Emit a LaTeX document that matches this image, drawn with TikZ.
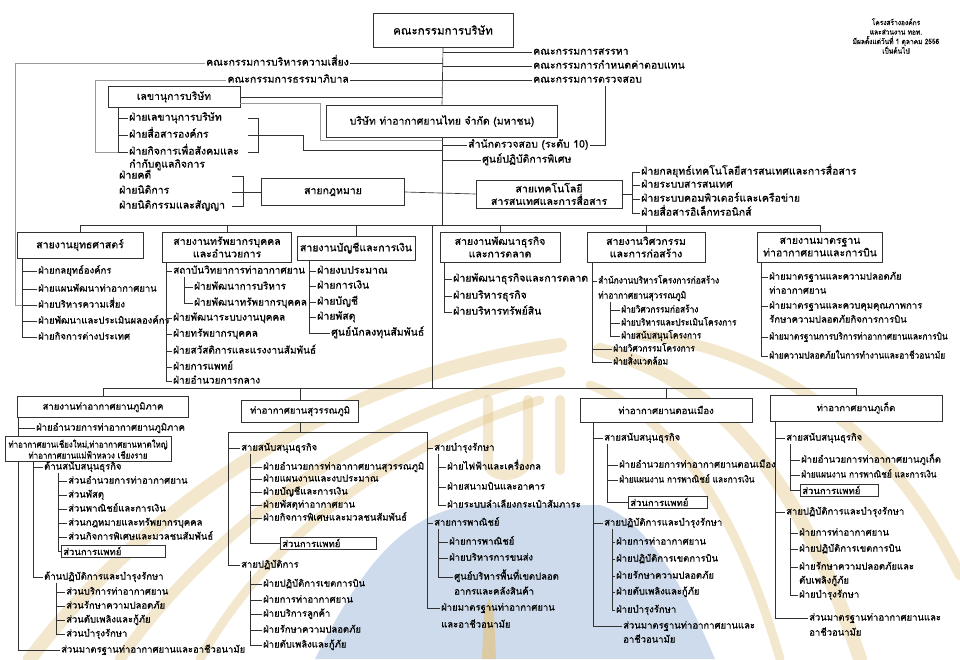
\documentclass[tikz,border=0pt]{standalone}
\usepackage{fontspec}
\newfontfamily\thaifont[Script=Thai, FakeBold=0.6]{Loma}
\newfontfamily\thainarrow[Script=Thai, FakeStretch=0.88, FakeBold=0.6]{Loma}
\usepackage{tikz}
\usetikzlibrary{positioning}
\definecolor{linegray}{RGB}{50,50,50}
\definecolor{wmblue}{RGB}{206,219,236}
\definecolor{wmgold}{RGB}{226,196,132}
\newcommand\thaisize{\thaifont\fontsize{9.5}{11.5}\selectfont}
\newcommand\thaimid{\thaifont\fontsize{10}{12}\selectfont}
\newcommand\thaibig{\thaifont\fontsize{10.5}{12.5}\selectfont}
\newcommand\thaislim{\thainarrow\fontsize{9.5}{11.5}\selectfont}
\newcommand\thaieng{\thainarrow\fontsize{9.5}{11}\selectfont}
\tikzset{
    box_style/.style={
        draw=linegray,        % 边框颜色
        line width=0.7pt,
        fill=white,
        align=center,
        inner sep=2pt,
        font=\thaibig
    },
    item_style/.style={
        anchor=west,
        inner sep=1pt,
        text height=7pt,
        text depth=2pt,
        font=\thaisize
    },
    mid_item/.style={item_style, font=\thaimid},
    big_item/.style={item_style, font=\thaibig, text height=7.5pt, text depth=2.2pt},
    slim_item/.style={item_style, font=\thaislim},
    eng_item/.style={item_style, font=\thaieng},
    med_style/.style={
        draw=linegray,
        line width=0.6pt,
        fill=white,
        anchor=west,
        inner sep=2pt,
        align=left,
        font=\thaisize
    },
    link_style/.style={
        draw=linegray,
        line width=0.65pt
    },
    faint_style/.style={
        draw=gray!80,
        line width=0.6pt
    },
    note_style/.style={
        align=center,
        font=\thainarrow\fontsize{7.5}{9.5}\selectfont
    }
}

\begin{document}
\begin{tikzpicture}[x=1pt, y=-1pt]
\useasboundingbox (0,0) rectangle (960,659);

% 0. 背景水印
\fill[wmblue] (315,659) .. controls (360,570) and (400,515) .. (470,505) -- (600,505)
    .. controls (650,520) and (690,600) .. (715,659) -- cycle;
\begin{scope}[draw=wmgold, opacity=0.4, line cap=round]
    \draw[line width=14pt] (30,659) .. controls (120,540) and (300,380) .. (560,345);
    \draw[line width=11pt] (120,659) .. controls (190,560) and (330,420) .. (560,372);
    \draw[line width=9pt] (200,659) .. controls (250,570) and (350,460) .. (540,400);
    \draw[line width=14pt] (600,350) .. controls (720,380) and (800,480) .. (860,659);
    \draw[line width=11pt] (640,335) .. controls (790,350) and (900,450) .. (960,575);
    \draw[line width=9pt] (590,385) .. controls (680,420) and (740,520) .. (780,659);
    \draw[line width=10pt] (488,400) -- (488,462) .. controls (488,480) and (525,480) .. (528,458) -- (528,400);
    \draw[line width=10pt] (560,400) -- (560,470);
\end{scope}
\fill[wmgold, opacity=0.7] (482,659) -- (484,612) -- (489,598) -- (494,612) -- (496,659) -- cycle;

% 1. 董事会及委员会
\node[box_style, font=\thaifont\fontsize{11.5}{13}\selectfont, minimum width=140pt, minimum height=34pt] (board) at (443,30) {คณะกรรมการบริษัท};
\node[big_item, anchor=east] (risk_cmt) at (350,63) {คณะกรรมการบริหารความเสี่ยง};
\node[big_item, anchor=east] (gov_cmt) at (350,80) {คณะกรรมการธรรมาภิบาล};
\node[big_item] (nom_cmt) at (532,52) {คณะกรรมการสรรหา};
\node[big_item] (rem_cmt) at (532,66) {คณะกรรมการกำหนดค่าตอบแทน};
\node[big_item] (aud_cmt) at (532,80) {คณะกรรมการตรวจสอบ};
\node[note_style] (note) at (896,36) {โครงสร้างองค์กร\\และส่วนงาน ทอท.\\มีผลตั้งแต่วันที่ 1 ตุลาคม 2556\\เป็นต้นไป};

\node[box_style, minimum width=132pt, minimum height=21pt] (sec) at (174,97) {เลขานุการบริษัท};
\node[box_style, minimum width=231pt, minimum height=32pt] (company) at (442,121) {บริษัท ท่าอากาศยานไทย จำกัด (มหาชน)};
\node[big_item] (audit_off) at (467,145) {สำนักตรวจสอบ (ระดับ 10)};
\node[big_item] (spec_ops) at (481,160) {ศูนย์ปฏิบัติการพิเศษ};

\coordinate (trunk) at (443,0);
\draw[link_style] (board.south) -- (company.north);
\draw[link_style] (risk_cmt.east) -- (risk_cmt.east -| trunk);
\draw[link_style] (gov_cmt.east) -- (gov_cmt.east -| trunk);
\draw[link_style] (nom_cmt.west -| trunk) -- (nom_cmt.west);
\draw[link_style] (rem_cmt.west -| trunk) -- (rem_cmt.west);
\draw[link_style] (aud_cmt.west -| trunk) -- (aud_cmt.west);
\draw[link_style] (sec.east) -- (sec.east -| trunk);
\draw[faint_style] ([yshift=-6pt]sec.east) -| ([xshift=-6pt,yshift=-3pt]company.south west) -- ([yshift=-3pt]company.south);
\draw[link_style] (audit_off.west -| trunk) -- (audit_off.west);
\draw[link_style] (spec_ops.west -| trunk) -- (spec_ops.west);
\coordinate (aud_x) at (605,0);
\draw[link_style] (audit_off.east) -| (aud_cmt.south -| aud_x);

% 2. 秘书处
\coordinate (sec_sp) at (118,0);
\coordinate (sec_in) at (248,0);
\coordinate (sec_br) at (258,0);
\foreach \t/\y [count=\i] in {ฝ่ายเลขานุการบริษัท/118, ฝ่ายสื่อสารองค์กร/135, ฝ่ายกิจการเพื่อสังคมและ/152}{
    \node[big_item] (sec_\i) at (128,\y) {\t};
    \draw[link_style] (sec_\i.west) -- (sec_\i.west -| sec_sp);
}
\node[big_item] (sec_4) at (128,165) {กำกับดูแลกิจการ};
\draw[link_style] (sec.south -| sec_sp) -- (sec_3.west -| sec_sp);
\draw[link_style] (sec_1 -| sec_in) -| (sec_3 -| sec_br) -- (sec_3 -| sec_in);
\coordinate (sec_jog) at (303,150);
\draw[link_style] (sec_2 -| sec_in) -| (sec_jog) -- (sec_jog -| trunk);
\coordinate (gov_pt) at (95,152);
\draw[faint_style] (gov_cmt.west) -| (gov_pt) -- (sec_3.west -| sec_sp);

% 3. 法务 + 信息技术
\node[box_style, minimum width=143pt, minimum height=27pt] (law) at (333,192) {สายกฎหมาย};
\node[box_style, minimum width=146pt, minimum height=28pt] (it) at (549,194) {สายเทคโนโลยี\\สารสนเทศและการสื่อสาร};
\draw[link_style] (law.east) -- (it.west);
\coordinate (law_in) at (232,0);
\coordinate (law_br) at (243,0);
\foreach \t/\y [count=\i] in {ฝ่ายคดี/176, ฝ่ายนิติการ/191, ฝ่ายนิติกรรมและสัญญา/206}
    \node[big_item] (law_\i) at (118,\y) {\t};
\draw[link_style] (law_1 -| law_in) -| (law_3 -| law_br) -- (law_3 -| law_in);
\draw[link_style] (law.west) -- (law.west -| law_in);
\coordinate (it_sp) at (632,0);
\foreach \t/\y [count=\i] in {ฝ่ายกลยุทธ์เทคโนโลยีสารสนเทศและการสื่อสาร/172, ฝ่ายระบบสารสนเทศ/185, ฝ่ายระบบคอมพิวเตอร์และเครือข่าย/199, ฝ่ายสื่อสารอิเล็กทรอนิกส์/213}{
    \node[big_item] (it_\i) at (640,\y) {\t};
    \draw[link_style] (it_\i.west) -- (it_\i.west -| it_sp);
}
\draw[link_style] (it_1.west -| it_sp) -- (it_4.west -| it_sp);
\draw[link_style] (it.east) -- (it.east -| it_sp);

% 4. 六个职能线
\node[box_style, minimum width=126pt, minimum height=26pt] (strat) at (80,245) {สายงานยุทธศาสตร์};
\node[box_style, minimum width=129pt, minimum height=30pt] (hr) at (227,247) {สายงานทรัพยากรบุคคล\\และอำนวยการ};
\node[box_style, minimum width=118pt, minimum height=24pt] (fin) at (356,248) {สายงานบัญชีและการเงิน};
\node[box_style, minimum width=120pt, minimum height=30pt] (bd) at (500,247) {สายงานพัฒนาธุรกิจ\\และการตลาด};
\node[box_style, minimum width=118pt, minimum height=30pt] (eng) at (646,247) {สายงานวิศวกรรม\\และการก่อสร้าง};
\node[box_style, minimum width=125pt, minimum height=30pt] (std) at (820,247) {สายงานมาตรฐาน\\ท่าอากาศยานและการบิน};
\coordinate (bus) at (0,225);
\draw[link_style] (company.south) -- (company.south |- bus);
\draw[link_style] (strat.north |- bus) -- (std.north |- bus);
\foreach \n in {strat, hr, fin, bd, eng, std}
    \draw[link_style] (\n.north) -- (\n.north |- bus);

% strategy
\coordinate (strat_sp) at (22,0);
\foreach \t/\y [count=\i] in {ฝ่ายกลยุทธ์องค์กร/271, ฝ่ายแผนพัฒนาท่าอากาศยาน/289, ฝ่ายบริหารความเสี่ยง/305, ฝ่ายพัฒนาและประเมินผลองค์กร/321, ฝ่ายกิจการต่างประเทศ/337}{
    \node[item_style] (strat_\i) at (37,\y) {\t};
    \draw[link_style] (strat_\i.west) -- (strat_\i.west -| strat_sp);
}
\draw[link_style] (strat.south -| strat_sp) -- (strat_5.west -| strat_sp);
\coordinate (risk_pt) at (15,305);
\draw[faint_style] (risk_cmt.west) -| (risk_pt) -- (risk_pt -| strat_sp);

% HR
\coordinate (hr_sp) at (166,0);
\coordinate (hr_sub) at (184,0);
\foreach \t/\x/\y [count=\i] in {สถาบันวิทยาการท่าอากาศยาน/172/271, ฝ่ายพัฒนาการบริหาร/193/287, ฝ่ายพัฒนาทรัพยากรบุคคล/193/303, ฝ่ายพัฒนาระบบงานบุคคล/172/318, ฝ่ายทรัพยากรบุคคล/172/334, ฝ่ายสวัสดิการและแรงงานสัมพันธ์/172/351, ฝ่ายการแพทย์/172/367, ฝ่ายอำนวยการกลาง/172/381}
    \node[mid_item] (hr_\i) at (\x,\y) {\t};
\foreach \i in {1,4,5,6,7,8}
    \draw[link_style] (hr_\i.west) -- (hr_\i.west -| hr_sp);
\foreach \i in {2,3}
    \draw[link_style] (hr_\i.west) -- (hr_\i.west -| hr_sub);
\draw[link_style] (hr.south -| hr_sp) -- (hr_8.west -| hr_sp);
\draw[link_style] (hr_1.south -| hr_sub) -- (hr_3.west -| hr_sub);

% finance
\coordinate (fin_sp) at (309,0);
\foreach \t/\x/\y [count=\i] in {ฝ่ายงบประมาณ/316/271, ฝ่ายการเงิน/316/286, ฝ่ายบัญชี/316/302, ฝ่ายพัสดุ/316/317, ศูนย์นักลงทุนสัมพันธ์/330/333}{
    \node[big_item] (fin_\i) at (\x,\y) {\t};
    \draw[link_style] (fin_\i.west) -- (fin_\i.west -| fin_sp);
}
\draw[link_style] (fin.south -| fin_sp) -- (fin_5.west -| fin_sp);

% business
\coordinate (bd_sp) at (444,0);
\foreach \t/\y [count=\i] in {ฝ่ายพัฒนาธุรกิจและการตลาด/279, ฝ่ายบริหารธุรกิจ/296, ฝ่ายบริหารทรัพย์สิน/312}{
    \node[big_item] (bd_\i) at (452,\y) {\t};
    \draw[link_style] (bd_\i.west) -- (bd_\i.west -| bd_sp);
}
\draw[link_style] (bd.south -| bd_sp) -- (bd_3.west -| bd_sp);

% engineering
\coordinate (eng_sp) at (592,0);
\coordinate (eng_sub) at (610,0);
\node[eng_item] (eng_1) at (597,281) {สำนักงานบริหารโครงการก่อสร้าง};
\node[eng_item] (eng_1b) at (597,296) {ท่าอากาศยานสุวรรณภูมิ};
\foreach \t/\y [count=\i] in {ฝ่ายวิศวกรรมก่อสร้าง/310, ฝ่ายบริหารและประเมินโครงการ/323, ฝ่ายสนับสนุนโครงการ/336}{
    \node[eng_item] (eng_s\i) at (620,\y) {\t};
    \draw[link_style] (eng_s\i.west) -- (eng_s\i.west -| eng_sub);
}
\node[eng_item] (eng_4) at (612,349) {ฝ่ายวิศวกรรมโครงการ};
\node[eng_item] (eng_5) at (612,362) {ฝ่ายสิ่งแวดล้อม};
\foreach \n in {eng_1, eng_4, eng_5}
    \draw[link_style] (\n.west) -- (\n.west -| eng_sp);
\draw[link_style] (eng.south -| eng_sp) -- (eng_5.west -| eng_sp);
\draw[link_style] (eng_1b.south -| eng_sub) -- (eng_s3.west -| eng_sub);

% standards
\coordinate (std_sp) at (761,0);
\node[item_style] (std_1) at (768,277) {ฝ่ายมาตรฐานและความปลอดภัย};
\node[item_style] (std_1b) at (768,291) {ท่าอากาศยาน};
\node[item_style] (std_2) at (768,306) {ฝ่ายมาตรฐานและควบคุมคุณภาพการ};
\node[item_style] (std_2b) at (768,320) {รักษาความปลอดภัยกิจการการบิน};
\node[slim_item] (std_3) at (768,337) {ฝ่ายมาตรฐานการบริการท่าอากาศยานและการบิน};
\node[slim_item] (std_4) at (768,356) {ฝ่ายความปลอดภัยในการทำงานและอาชีวอนามัย};
\foreach \i in {1,...,4}
    \draw[link_style] (std_\i.west) -- (std_\i.west -| std_sp);
\draw[link_style] (std.south -| std_sp) -- (std_4.west -| std_sp);

% 5. 机场
\node[box_style, font=\thaisize, minimum width=171pt, minimum height=21pt] (reg) at (103,407) {สายงานท่าอากาศยานภูมิภาค};
\node[box_style, font=\thaisize, minimum width=117pt, minimum height=22pt] (svb) at (300,411) {ท่าอากาศยานสุวรรณภูมิ};
\node[box_style, font=\thaisize, minimum width=172pt, minimum height=24pt] (dmk) at (666,410) {ท่าอากาศยานดอนเมือง};
\node[box_style, font=\thaisize, minimum width=172pt, minimum height=26pt] (phk) at (856,408) {ท่าอากาศยานภูเก็ต};
\coordinate (lbus) at (0,388);
\coordinate (drop) at (432,0);
\draw[link_style] (drop |- bus) -- (drop |- lbus);
\draw[link_style] (reg.north |- lbus) -- (phk.north |- lbus);
\foreach \n in {reg, svb, dmk, phk}
    \draw[link_style] (\n.north) -- (\n.north |- lbus);

% regional
\coordinate (reg_sp) at (18,0);
\coordinate (dn_sp) at (33,0);
\coordinate (rs_sp) at (58,0);
\coordinate (ro_sp) at (56,0);
\node[item_style] (reg_1) at (35,428) {ฝ่ายอำนวยการท่าอากาศยานภูมิภาค};
\node[box_style, font=\thainarrow\fontsize{9}{11}\selectfont, minimum width=166pt, minimum height=25pt, inner sep=1pt] (apt) at (88,449) {ท่าอากาศยานเชียงใหม่,ท่าอากาศยานหาดใหญ่\\ท่าอากาศยานแม่ฟ้าหลวง เชียงราย};
\node[item_style] (dn_1) at (43,467) {ด้านสนับสนุนธุรกิจ};
\foreach \t/\y [count=\i] in {ส่วนอำนวยการท่าอากาศยาน/481, ส่วนพัสดุ/495, ส่วนพาณิชย์และการเงิน/509, ส่วนกฎหมายและทรัพยากรบุคคล/523, ส่วนกิจการพิเศษและมวลชนสัมพันธ์/537}{
    \node[item_style] (rs_\i) at (67,\y) {\t};
    \draw[link_style] (rs_\i.west) -- (rs_\i.west -| rs_sp);
}
\node[med_style, text width=100pt] (rs_med) at (61,551) {ส่วนการแพทย์};
\node[item_style] (dn_2) at (43,577) {ด้านปฏิบัติการและบำรุงรักษา};
\foreach \t/\y [count=\i] in {ส่วนบริการท่าอากาศยาน/592, ส่วนรักษาความปลอดภัย/606, ส่วนดับเพลิงและกู้ภัย/620, ส่วนบำรุงรักษา/634}{
    \node[item_style] (ro_\i) at (65,\y) {\t};
    \draw[link_style] (ro_\i.west) -- (ro_\i.west -| ro_sp);
}
\node[item_style] (reg_end) at (60,650) {ส่วนมาตรฐานท่าอากาศยานและอาชีวอนามัย};
\draw[link_style] (reg.south -| reg_sp) -- (apt.north -| reg_sp);
\draw[link_style] (apt.south -| reg_sp) -- (reg_end.west -| reg_sp);
\foreach \n in {reg_1, reg_end}
    \draw[link_style] (\n.west) -- (\n.west -| reg_sp);
\draw[link_style] (apt.south -| dn_sp) -- (dn_2.west -| dn_sp);
\foreach \n in {dn_1, dn_2}
    \draw[link_style] (\n.west) -- (\n.west -| dn_sp);
\draw[link_style] (dn_1.south -| rs_sp) -- (rs_med.west -| rs_sp);
\draw[link_style] (rs_med.west) -- (rs_med.west -| rs_sp);
\draw[link_style] (dn_2.south -| ro_sp) -- (ro_4.west -| ro_sp);

% suvarnabhumi
\coordinate (svb_l) at (228,432);
\coordinate (svb_r) at (427,432);
\coordinate (sva_sp) at (250,0);
\coordinate (svc_sp) at (438,0);
\node[item_style] (sv_a) at (240,448) {สายสนับสนุนธุรกิจ};
\foreach \t/\y [count=\i] in {ฝ่ายอำนวยการท่าอากาศยานสุวรรณภูมิ/467, ฝ่ายแผนงานและงบประมาณ/479, ฝ่ายบัญชีและการเงิน/492, ฝ่ายพัสดุท่าอากาศยาน/505, ฝ่ายกิจการพิเศษและมวลชนสัมพันธ์/518}{
    \node[item_style] (sva_\i) at (262,\y) {\t};
    \draw[link_style] (sva_\i.west) -- (sva_\i.west -| sva_sp);
}
\node[med_style, text width=92pt] (sva_med) at (280,543) {ส่วนการแพทย์};
\node[item_style] (sv_b) at (240,565) {สายปฏิบัติการ};
\foreach \t/\y [count=\i] in {ฝ่ายปฏิบัติการเขตการบิน/584, ฝ่ายการท่าอากาศยาน/600, ฝ่ายบริการลูกค้า/614, ฝ่ายรักษาความปลอดภัย/630, ฝ่ายดับเพลิงและกู้ภัย/645}{
    \node[item_style] (svbb_\i) at (262,\y) {\t};
    \draw[link_style] (svbb_\i.west) -- (svbb_\i.west -| sva_sp);
}
\node[item_style] (sv_c) at (433,448) {สายบำรุงรักษา};
\foreach \t/\y [count=\i] in {ฝ่ายไฟฟ้าและเครื่องกล/467, ฝ่ายสนามบินและอาคาร/487, ฝ่ายระบบลำเลียงกระเป๋าสัมภาระ/505}{
    \node[item_style] (svc_\i) at (446,\y) {\t};
    \draw[link_style] (svc_\i.west) -- (svc_\i.west -| svc_sp);
}
\node[item_style] (sv_d) at (433,523) {สายการพาณิชย์};
\foreach \t/\x/\y [count=\i] in {ฝ่ายการพาณิชย์/448/542, ฝ่ายบริหารการขนส่ง/448/558, ศูนย์บริหารพื้นที่เขตปลอด/453/577}{
    \node[item_style] (svd_\i) at (\x,\y) {\t};
    \draw[link_style] (svd_\i.west) -- (svd_\i.west -| svc_sp);
}
\node[item_style] (svd_3b) at (453,592) {อากรและคลังสินค้า};
\node[item_style] (sv_e) at (440,608) {ฝ่ายมาตรฐานท่าอากาศยาน};
\node[item_style] (sv_eb) at (440,625) {และอาชีวอนามัย};
\draw[link_style] (svb.south) -- (svb.south |- svb_l);
\draw[link_style] (svb_l) -- (svb_r);
\draw[link_style] (svb_l) -- (sv_b.west -| svb_l);
\draw[link_style] (svb_r) -- (sv_e.west -| svb_r);
\foreach \n in {sv_a, sv_b}
    \draw[link_style] (\n.west) -- (\n.west -| svb_l);
\foreach \n in {sv_c, sv_d, sv_e}
    \draw[link_style] (\n.west) -- (\n.west -| svb_r);
\draw[link_style] (sv_a.south -| sva_sp) -- (sva_med.west -| sva_sp);
\draw[link_style] (sva_med.west) -- (sva_med.west -| sva_sp);
\draw[link_style] (sv_b.south -| sva_sp) -- (svbb_5.west -| sva_sp);
\draw[link_style] (sv_c.south -| svc_sp) -- (svc_3.west -| svc_sp);
\draw[link_style] (sv_d.south -| svc_sp) -- (svd_3.west -| svc_sp);

% don mueang
\coordinate (dm_sp) at (593,0);
\coordinate (dma_sp) at (607,0);
\coordinate (dmb_sp) at (612,0);
\node[item_style] (dm_a) at (603,438) {สายสนับสนุนธุรกิจ};
\node[item_style] (dma_1) at (618,465) {ฝ่ายอำนวยการท่าอากาศยานดอนเมือง};
\node[slim_item] (dma_2) at (618,480) {ฝ่ายแผนงาน การพาณิชย์ และการเงิน};
\foreach \i in {1,2}
    \draw[link_style] (dma_\i.west) -- (dma_\i.west -| dma_sp);
\node[med_style, text width=75pt] (dma_med) at (628,502) {ส่วนการแพทย์};
\node[item_style] (dm_b) at (603,523) {สายปฏิบัติการและบำรุงรักษา};
\foreach \t/\y [count=\i] in {ฝ่ายการท่าอากาศยาน/542, ฝ่ายปฏิบัติการเขตการบิน/559, ฝ่ายรักษาความปลอดภัย/576, ฝ่ายดับเพลิงและกู้ภัย/592, ฝ่ายบำรุงรักษา/610}{
    \node[item_style] (dmb_\i) at (615,\y) {\t};
    \draw[link_style] (dmb_\i.west) -- (dmb_\i.west -| dmb_sp);
}
\node[item_style] (dm_c) at (622,626) {ส่วนมาตรฐานท่าอากาศยานและ};
\node[item_style] (dm_cb) at (622,640) {อาชีวอนามัย};
\draw[link_style] (dmk.south -| dm_sp) -- (dm_c.west -| dm_sp);
\foreach \n in {dm_a, dm_b, dm_c}
    \draw[link_style] (\n.west) -- (\n.west -| dm_sp);
\draw[link_style] (dm_a.south -| dma_sp) -- (dma_med.west -| dma_sp);
\draw[link_style] (dma_med.west) -- (dma_med.west -| dma_sp);
\draw[link_style] (dm_b.south -| dmb_sp) -- (dmb_5.west -| dmb_sp);

% phuket
\coordinate (pk_sp) at (775,0);
\coordinate (pka_sp) at (790,0);
\node[item_style] (pk_a) at (785,438) {สายสนับสนุนธุรกิจ};
\node[item_style] (pka_1) at (800,460) {ฝ่ายอำนวยการท่าอากาศยานภูเก็ต};
\node[slim_item] (pka_2) at (800,475) {ฝ่ายแผนงาน การพาณิชย์ และการเงิน};
\foreach \i in {1,2}
    \draw[link_style] (pka_\i.west) -- (pka_\i.west -| pka_sp);
\node[med_style, text width=74pt] (pka_med) at (800,490) {ส่วนการแพทย์};
\node[item_style] (pk_b) at (785,512) {สายปฏิบัติการและบำรุงรักษา};
\foreach \t/\y [count=\i] in {ฝ่ายการท่าอากาศยาน/533, ฝ่ายปฏิบัติการเขตการบิน/549, ฝ่ายรักษาความปลอดภัยและ/567}{
    \node[item_style] (pkb_\i) at (798,\y) {\t};
    \draw[link_style] (pkb_\i.west) -- (pkb_\i.west -| pka_sp);
}
\node[item_style] (pkb_3b) at (798,581) {ดับเพลิงกู้ภัย};
\node[item_style] (pkb_4) at (798,595) {ฝ่ายบำรุงรักษา};
\draw[link_style] (pkb_4.west) -- (pkb_4.west -| pka_sp);
\node[item_style] (pk_c) at (808,618) {ส่วนมาตรฐานท่าอากาศยานและ};
\node[item_style] (pk_cb) at (808,633) {อาชีวอนามัย};
\draw[link_style] (phk.south -| pk_sp) -- (pk_c.west -| pk_sp);
\foreach \n in {pk_a, pk_b, pk_c}
    \draw[link_style] (\n.west) -- (\n.west -| pk_sp);
\draw[link_style] (pk_a.south -| pka_sp) -- (pka_med.west -| pka_sp);
\draw[link_style] (pka_med.west) -- (pka_med.west -| pka_sp);
\draw[link_style] (pk_b.south -| pka_sp) -- (pkb_4.west -| pka_sp);
\end{tikzpicture}
\end{document}
